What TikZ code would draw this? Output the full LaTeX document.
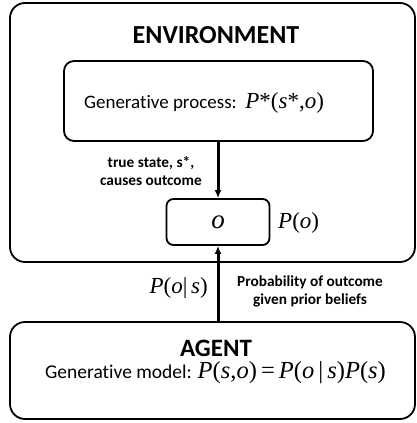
\documentclass[tikz,border=0pt]{standalone}
\usepackage{fontspec}
\setmainfont{Carlito}[Ligatures=CommonOff]
\newfontfamily\tms{Liberation Serif}
\usetikzlibrary{arrows.meta}
\newcommand{\mi}[1]{{\itshape #1}}
\tikzset{
  boxa/.style={draw, line width=1.8pt, rounded corners=15pt, inner sep=0pt},
  boxb/.style={draw, line width=1.8pt, rounded corners=10pt, inner sep=0pt},
  boxc/.style={draw, line width=1.8pt, rounded corners=7pt, inner sep=0pt},
  title/.style={font=\bfseries\fontsize{26}{30}\selectfont, inner sep=0pt},
  lbl/.style={font=\bfseries\fontsize{15.3}{17.5}\selectfont, align=center, inner sep=0pt},
  txt/.style={font=\fontsize{19}{22}\selectfont, inner sep=0pt},
  mth/.style={font=\tms\fontsize{23}{26}\selectfont, inner sep=0pt},
  arr/.style={draw=black, line width=3pt, -{Latex[length=8pt,width=7pt]}}
}
\begin{document}
\begin{tikzpicture}[x=1pt,y=-1pt]
\useasboundingbox (0,0) rectangle (417,423);
\fill[white] (0,0) rectangle (417,423);
% boxes
\node[boxa, minimum width=405pt, minimum height=259pt] (env) at (212.5,132.5) {};
\node[boxb, minimum width=309pt, minimum height=80pt] (gen) at (218.5,101) {};
\node[boxc, minimum width=103pt, minimum height=46pt, font=\tms\itshape\fontsize{27}{30}\selectfont] (o) at (218,222) {o};
\node[boxa, minimum width=405pt, minimum height=97pt] (agent) at (212.5,370.5) {};
% texts
\node[title] (envt) at (216,35) {ENVIRONMENT};
\node[txt] (gent) at (204,103) {Generative process:\ \ {\tms\fontsize{23}{26}\selectfont\mi{P}*(\mi{s}*,\mi{o})}};
\node[lbl] (cause) at (151,171) {true state, s*,\\causes outcome};
\node[mth, anchor=west] (po) at (278,223) {\mi{P}(\mi{o})};
\node[mth, anchor=east] (pos) at (208,288) {\mi{P}(\mi{o}|\,\mi{s})};
\node[lbl] (prob) at (310,291.5) {Probability of outcome\\given prior beliefs};
\node[title, font=\bfseries\fontsize{25}{28}\selectfont] (agt) at (216,348) {AGENT};
\node[txt, font=\fontsize{19.5}{22}\selectfont] (genm) at (215.5,373) {Generative model: {\tms\fontsize{24.5}{27}\selectfont\mi{P}(\mi{s},\mi{o})\,=\,\mi{P}(\mi{o}\,|\,\mi{s})\mi{P}(\mi{s})}};
% arrows
\draw[arr] (o.north |- gen.south) -- (o.north);
\draw[arr] (o.south |- agent.north) -- (o.south);
\end{tikzpicture}
\end{document}
